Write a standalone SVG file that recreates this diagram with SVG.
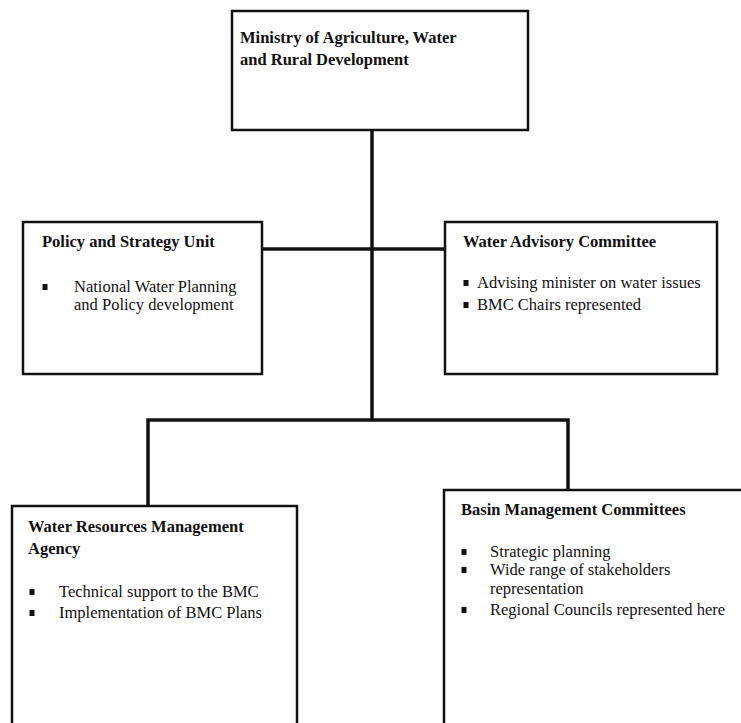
<svg xmlns="http://www.w3.org/2000/svg" width="741" height="723" viewBox="0 0 741 723">
<style>
.box{fill:#fff;stroke:#111;stroke-width:2.5}
.conn{fill:none;stroke:#111;stroke-width:3.5}
text{font-family:"Liberation Serif","Times New Roman",serif;font-size:16.5px;fill:#111}
.t{font-weight:bold}
</style>
<defs>
<rect id="b" x="-2.5" y="-8" width="5" height="6" fill="#111"/>
</defs>
<rect width="741" height="723" fill="#fff"/>
<g id="connectors">
<path class="conn" d="M372 131 V420"/>
<path class="conn" d="M262 249 H445"/>
<path class="conn" d="M148 506 V420 H568 V490"/>
</g>
<g id="ministry">
<rect class="box" x="232" y="11" width="296" height="119"/>
<text class="t" x="240" y="43">Ministry of Agriculture, Water</text>
<text class="t" x="240" y="65">and Rural Development</text>
</g>
<g id="policy">
<rect class="box" x="23" y="222" width="239" height="152"/>
<text class="t" x="42" y="247">Policy and Strategy Unit</text>
<use href="#b" x="45" y="292"/>
<text x="74" y="292">National Water Planning</text>
<text x="74" y="310">and Policy development</text>
</g>
<g id="advisory">
<rect class="box" x="445" y="222" width="272" height="152"/>
<text class="t" x="463" y="247">Water Advisory Committee</text>
<use href="#b" x="466" y="288"/>
<text x="477" y="288">Advising minister on water issues</text>
<use href="#b" x="466" y="310"/>
<text x="477" y="310">BMC Chairs represented</text>
</g>
<g id="wrma">
<path class="box" d="M12 730 V506 H297 V730"/>
<text class="t" x="28" y="532">Water Resources Management</text>
<text class="t" x="28" y="554">Agency</text>
<use href="#b" x="32" y="597"/>
<text x="59" y="597">Technical support to the BMC</text>
<use href="#b" x="32" y="618"/>
<text x="59" y="618">Implementation of BMC Plans</text>
</g>
<g id="basin">
<path class="box" d="M444 730 V490 H750"/>
<text class="t" x="461" y="515">Basin Management Committees</text>
<use href="#b" x="464" y="557"/>
<text x="490" y="557">Strategic planning</text>
<use href="#b" x="464" y="575"/>
<text x="490" y="575">Wide range of stakeholders</text>
<text x="490" y="594">representation</text>
<use href="#b" x="464" y="615"/>
<text x="490" y="615">Regional Councils represented here</text>
</g>
</svg>
